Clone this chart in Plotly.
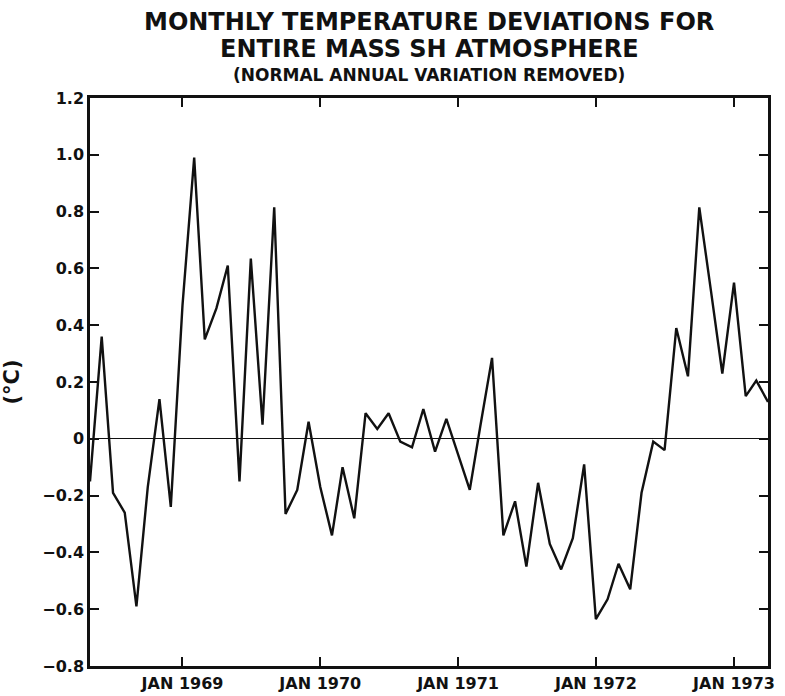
import plotly.graph_objects as go

months = [
    "1968-05", "1968-06", "1968-07", "1968-08", "1968-09", "1968-10", "1968-11", "1968-12",
    "1969-01", "1969-02", "1969-03", "1969-04", "1969-05", "1969-06", "1969-07", "1969-08",
    "1969-09", "1969-10", "1969-11", "1969-12",
    "1970-01", "1970-02", "1970-03", "1970-04", "1970-05", "1970-06", "1970-07", "1970-08",
    "1970-09", "1970-10", "1970-11", "1970-12",
    "1971-01", "1971-02", "1971-03", "1971-04", "1971-05", "1971-06", "1971-07", "1971-08",
    "1971-09", "1971-10", "1971-11", "1971-12",
    "1972-01", "1972-02", "1972-03", "1972-04", "1972-05", "1972-06", "1972-07", "1972-08",
    "1972-09", "1972-10", "1972-11", "1972-12",
    "1973-01", "1973-02", "1973-03", "1973-04",
]
deviation = [
    -0.15, 0.36, -0.19, -0.26, -0.59, -0.17, 0.14, -0.24,
    0.47, 0.99, 0.35, 0.46, 0.61, -0.15, 0.635, 0.05,
    0.815, -0.265, -0.18, 0.06,
    -0.17, -0.34, -0.10, -0.28, 0.09, 0.035, 0.09, -0.01,
    -0.03, 0.105, -0.045, 0.07,
    -0.055, -0.18, 0.045, 0.285, -0.34, -0.22, -0.45, -0.155,
    -0.37, -0.46, -0.35, -0.09,
    -0.635, -0.565, -0.44, -0.53, -0.19, -0.01, -0.04, 0.39,
    0.22, 0.815, 0.52, 0.23,
    0.55, 0.15, 0.205, 0.13,
]
x_tick_vals = ["1969-01-01", "1970-01-01", "1971-01-01", "1972-01-01", "1973-01-01"]
x_tick_text = ["JAN 1969", "JAN 1970", "JAN 1971", "JAN 1972", "JAN 1973"]
y_tick_vals = [-0.8, -0.6, -0.4, -0.2, 0, 0.2, 0.4, 0.6, 0.8, 1.0, 1.2]
y_tick_text = ["\u22120.8", "\u22120.6", "\u22120.4", "\u22120.2", "0", "0.2", "0.4", "0.6", "0.8", "1.0", "1.2"]

title_lines = ["MONTHLY TEMPERATURE DEVIATIONS FOR", "ENTIRE MASS SH ATMOSPHERE"]
subtitle = "(NORMAL ANNUAL VARIATION REMOVED)"

FONT = "DejaVu Sans"
INK = "#111111"

fig = go.Figure()
fig.add_trace(go.Scatter(
    x=[m + "-01" for m in months], y=deviation, mode="lines",
    line=dict(color=INK, width=2.4), showlegend=False,
))

fig.update_layout(
    width=785, height=696,
    margin=dict(l=90, r=17, t=98, b=30),
    paper_bgcolor="white", plot_bgcolor="white",
    font=dict(family=FONT, color=INK),
    xaxis=dict(
        range=["1968-05-01", "1973-04-01"],
        tickvals=x_tick_vals, ticktext=x_tick_text,
        ticks="inside", ticklen=9, tickwidth=2, tickcolor=INK,
        showline=True, linewidth=2.5, linecolor=INK, mirror="ticks",
        showgrid=False, zeroline=False, automargin=False,
        tickfont=dict(family=FONT, size=16, weight="bold"),
        ticklabelstandoff=1,
    ),
    yaxis=dict(
        range=[-0.8, 1.2],
        tickvals=y_tick_vals, ticktext=y_tick_text,
        ticks="inside", ticklen=9, tickwidth=2, tickcolor=INK,
        showline=True, linewidth=2.5, linecolor=INK, mirror="ticks",
        showgrid=False, zeroline=True, zerolinewidth=1.3, zerolinecolor=INK,
        automargin=False,
        tickfont=dict(family=FONT, size=16, weight="bold"),
        title=dict(text="(°C)", font=dict(family=FONT, size=21, weight="bold"), standoff=18),
    ),
)

fig.add_annotation(text=title_lines[0], xref="paper", yref="paper", x=0.5, y=1.133,
                   showarrow=False, yanchor="middle",
                   font=dict(family=FONT, size=24, weight="bold", color=INK))
fig.add_annotation(text=title_lines[1], xref="paper", yref="paper", x=0.5, y=1.086,
                   showarrow=False, yanchor="middle",
                   font=dict(family=FONT, size=24, weight="bold", color=INK))
fig.add_annotation(text=subtitle, xref="paper", yref="paper", x=0.5, y=1.040,
                   showarrow=False, yanchor="middle",
                   font=dict(family=FONT, size=17, weight="bold", color=INK))

fig.write_html("out.html")
